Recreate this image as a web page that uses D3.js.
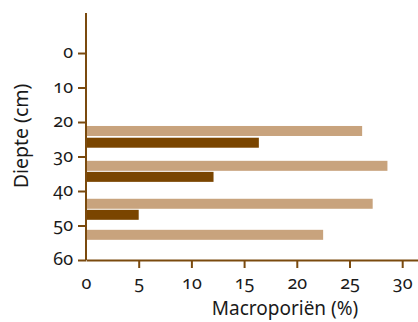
<!DOCTYPE html>
<html><head><meta charset="utf-8">
<script src="https://cdn.jsdelivr.net/npm/d3@7"></script>
<style>
body{margin:0;background:#fff;}
text{font-family:"Noto Sans",sans-serif;font-variant-numeric:oldstyle-nums;font-feature-settings:"onum" 1;}
</style></head><body>
<svg id="c" width="418" height="322"></svg>
<script>
const depthTicks = [0, 10, 20, 30, 40, 50, 60];
const xTicks = [0, 5, 10, 15, 20, 25, 30];
const lightDepth = [22.6, 32.7, 43.7, 52.7];
const lightValue = [26.2, 28.6, 27.2, 22.5];
const darkDepth = [26.0, 35.9, 46.9];
const darkValue = [16.4, 12.1, 5.0];

const axisColor = "#7a4a0e", lightColor = "#c8a37d", darkColor = "#7a4500";
const svg = d3.select("#c");
const x = d3.scaleLinear().domain([0, 31.5]).range([86, 418]);
const y = d3.scaleLinear().domain([-11.6, 60]).range([13, 260]);
const barH = 10;

svg.append("g").selectAll("rect").data(lightValue).join("rect")
  .attr("x", x(0)).attr("y", (d,i)=>y(lightDepth[i]) - barH/2)
  .attr("width", d=>x(d)-x(0)).attr("height", barH).attr("fill", lightColor);
svg.append("g").selectAll("rect").data(darkValue).join("rect")
  .attr("x", x(0)).attr("y", (d,i)=>y(darkDepth[i]) - barH/2)
  .attr("width", d=>x(d)-x(0)).attr("height", barH).attr("fill", darkColor);

const gy = svg.append("g").attr("transform", `translate(${x(0)},0)`)
  .call(d3.axisLeft(y).tickValues(depthTicks).tickSize(8).tickPadding(5).tickSizeOuter(0));
const gx = svg.append("g").attr("transform", `translate(0,${y(60)})`)
  .call(d3.axisBottom(x).tickValues(xTicks).tickSize(8).tickPadding(8).tickSizeOuter(0));
[gy, gx].forEach(g=>{
  g.selectAll("path,line").attr("stroke", axisColor).attr("stroke-width", 2);
  g.selectAll("text").attr("fill", "#1a1a1a").style("font-size", "18px");
});
gy.selectAll("text").attr("dy", "0.27em");
gx.selectAll(".tick").filter(d=>d===0).select("line").remove();
gy.select(".domain").attr("d", `M0,${y.range()[0]}V${y.range()[1]}`);

svg.append("text").attr("x", 285).attr("y", 315).attr("text-anchor", "middle")
  .style("font-size", "19px").attr("fill", "#1a1a1a").text("Macroporiën (%)");
svg.append("text").attr("transform", "translate(28,136) rotate(-90)").attr("text-anchor", "middle")
  .style("font-size", "19.5px").attr("fill", "#1a1a1a").text("Diepte (cm)");
</script></body></html>
